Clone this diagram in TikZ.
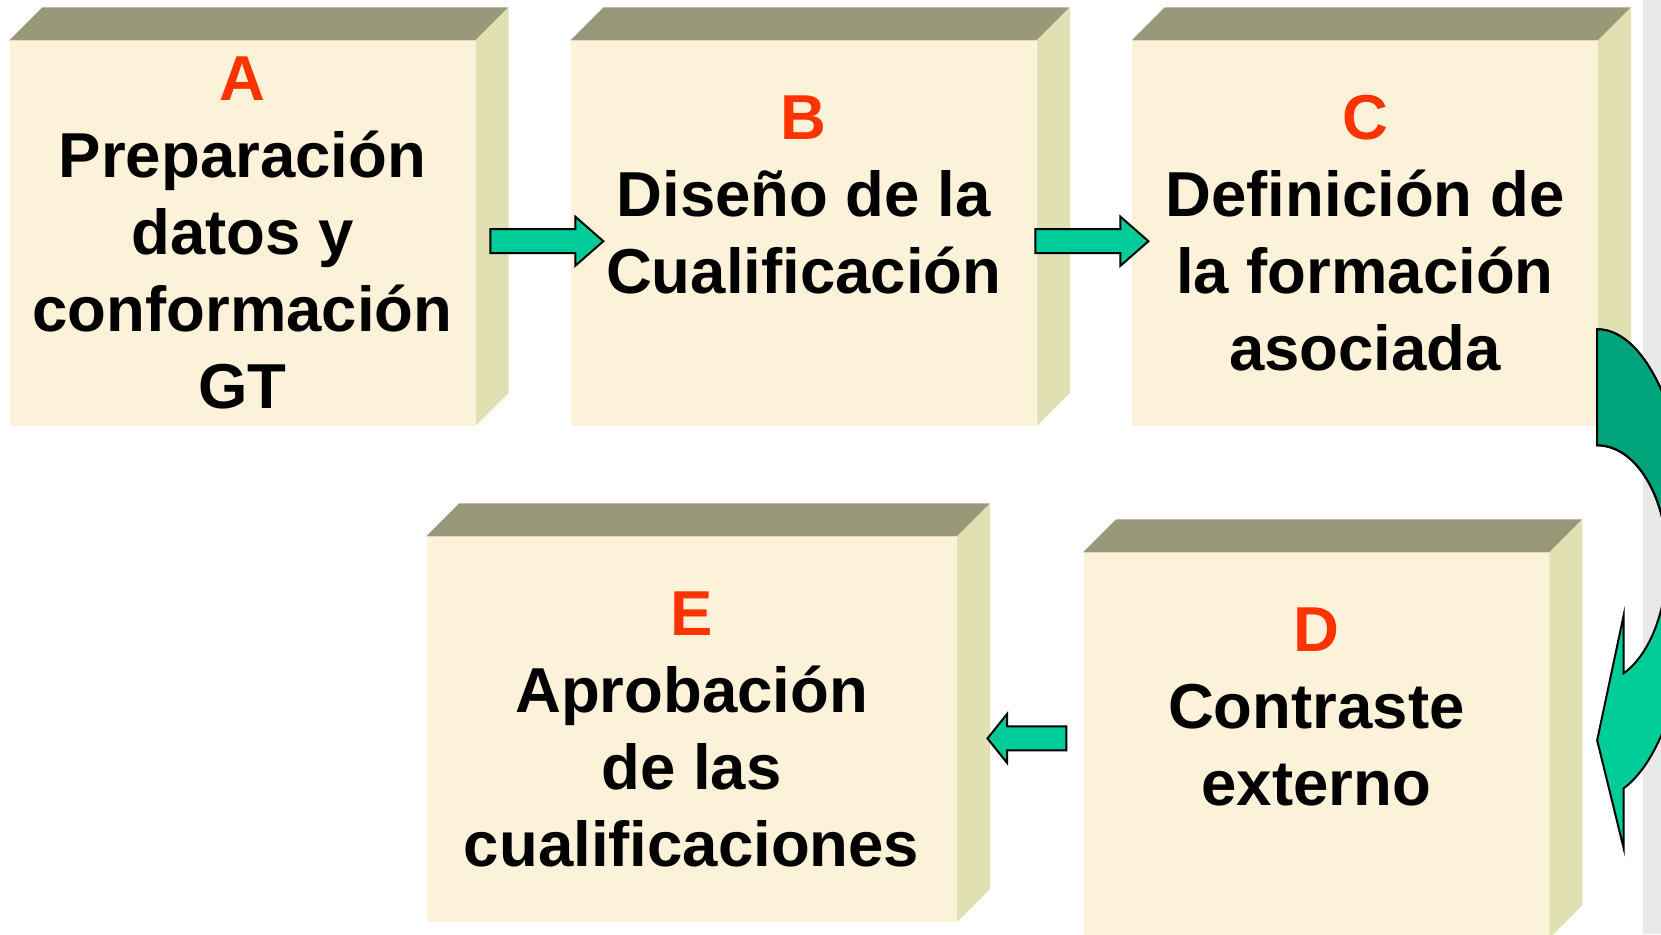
\documentclass[tikz,border=0pt]{standalone}
\usepackage{fontspec}
\setmainfont{Liberation Sans}
\usetikzlibrary{positioning,calc}
\definecolor{frente}{RGB}{252,242,218}
\definecolor{techo}{RGB}{153,153,122}
\definecolor{lado}{RGB}{224,224,178}
\definecolor{letra}{RGB}{255,51,0}
\definecolor{verde}{RGB}{0,204,153}
\definecolor{verdeosc}{RGB}{0,163,122}
\definecolor{franja}{RGB}{232,232,232}
\begin{document}
\begin{tikzpicture}[x=0.5pt, y=-0.5pt,
        etapa/.style={fill=frente, minimum width=232.75pt, minimum height=192.5pt,
          inner sep=0pt, align=center, font=\fontsize{31.75}{38.5}\selectfont\bfseries},
        flecha/.style={draw, line width=1pt, fill=verde,
          to path={let \p1=(\tikztostart), \p2=(\tikztotarget), \p3=($(\p2)!#1!(\p1)$) in
            (\x1,\y1+6pt) -- (\x3,\y1+6pt) -- (\x3,\y1+12.25pt) -- (\x2,\y1)
            -- (\x3,\y1-12.25pt) -- (\x3,\y1-6pt) -- (\x1,\y1-6pt) -- cycle}},
        curva/.style={draw, line width=1pt}]
    \useasboundingbox (0,0) rectangle (1661,934);
    \clip (0,0) rectangle (1661,934);
    \fill[franja] (1643,0) rectangle (1661,934);

    \node[etapa] (A) at (242.4,233.2) {{\color{letra}A}\\Preparación\\datos y\\conformación\\GT};
    \node[etapa, right=47.5pt of A] (B) {{\color{letra}B}\\Diseño de la\\Cualificación\\\mbox{}};
    \node[etapa, right=47.5pt of B] (C) {{\color{letra}C}\\Definición de\\la formación\\asociada};
    \node[etapa] (D) at (1316.3,745.2) {{\color{letra}D}\\Contraste\\externo\\\mbox{}};
    \node[etapa, minimum width=265pt] (E) at (691.6,729.2) {{\color{letra}E}\\Aprobación\\de las\\cualificaciones};

    \foreach \n in {A,B,C,D,E} {
      \fill[techo] (\n.north west) -- ++(33,-33) -- ([shift={(33,-33)}]\n.north east) -- (\n.north east) -- cycle;
      \fill[lado] (\n.north east) -- ++(33,-33) -- ([shift={(33,-33)}]\n.south east) -- (\n.south east) -- cycle;
    }

    \draw[flecha=14pt] ([shift={(14.7,8)}]A.east) to ([shift={(32.8,8)}]B.west);
    \draw[flecha=14pt] ([shift={(-1.5,8)}]B.east) to ([shift={(16.6,8)}]C.west);
    \draw[flecha=10pt] ([shift={(-16.8,-6.8)}]D.west) to ([shift={(30.5,-6.8)}]E.east);

    \draw[curva, fill=verde] ([shift={(-1,96)}]C.east) coordinate (cd)
      arc[start angle=90, end angle=0, x radius=47.5pt, y radius=115.5pt]
      arc[start angle=0, end angle=-73.8, x radius=47.5pt, y radius=118.75pt]
      -- ++(0,60) -- ++(-26.5,-108) -- ++(26.5,-125) -- ++(0,58)
      arc[start angle=-67.7, end angle=0, x radius=35pt, y radius=61pt]
      arc[start angle=0, end angle=90, x radius=35pt, y radius=57.5pt] -- cycle;
    \draw[curva, fill=verdeosc] (cd)
      arc[start angle=90, end angle=0, x radius=47.5pt, y radius=115.5pt] -- ++(-25,0)
      arc[start angle=0, end angle=90, x radius=35pt, y radius=57.5pt] -- cycle;
\end{tikzpicture}
\end{document}
